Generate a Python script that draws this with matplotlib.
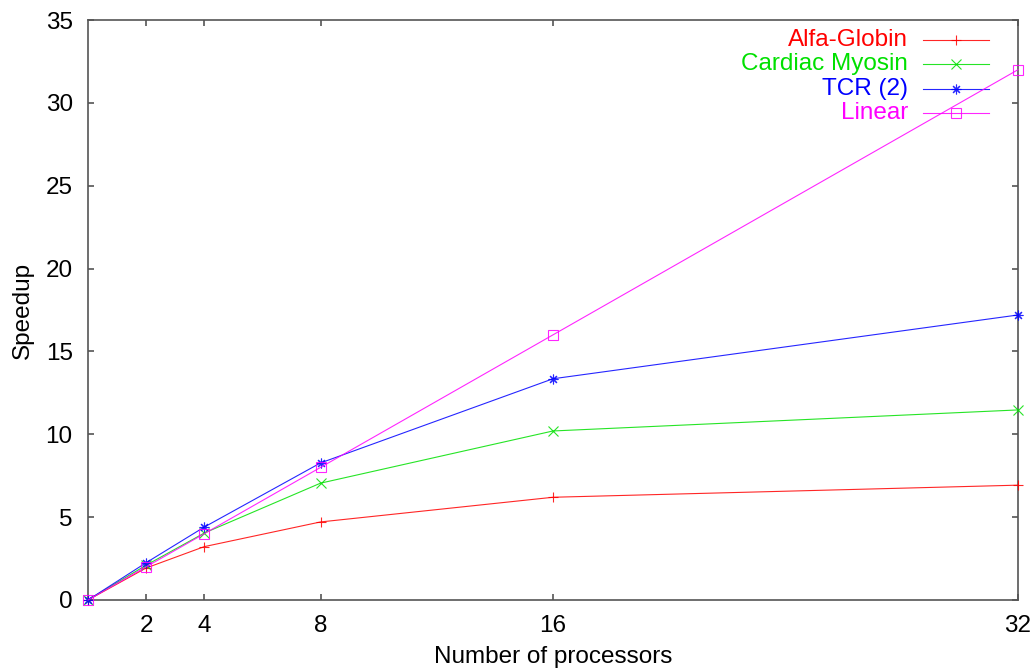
import matplotlib
matplotlib.use("Agg")
import matplotlib.pyplot as plt
from matplotlib.lines import Line2D

plt.rcParams['font.family'] = ['Liberation Sans', 'DejaVu Sans']

processors = [0, 2, 4, 8, 16, 32]
alfa_globin = [0, 1.93, 3.22, 4.71, 6.2, 6.93]
cardiac_myosin = [0, 2.1, 4.04, 7.05, 10.2, 11.47]
tcr2 = [0, 2.25, 4.4, 8.27, 13.35, 17.2]
linear = [0, 2, 4, 8, 16, 32]

labels = ['Alfa-Globin', 'Cardiac Myosin', 'TCR (2)', 'Linear']
colors = ['#ff0000', '#00e000', '#0000ff', '#ff00ff']
markers = ['+', 'x', (8, 2, 0), 's']
series = [alfa_globin, cardiac_myosin, tcr2, linear]

xticks = [2, 4, 8, 16, 32]
yticks = [0, 5, 10, 15, 20, 25, 30, 35]

FS = 17.5

fig = plt.figure(figsize=(10.30, 6.71), dpi=100)
ax = fig.add_axes([88/1030, 71/671, 930/1030, 580/671])

for s, c, m in zip(series, colors, markers):
    mfc = 'none' if m == 's' else c
    ax.plot(processors, s, color=c, lw=0.8, alpha=0.85, marker=m, markersize=7,
            markeredgewidth=0.8, markerfacecolor=mfc, clip_on=False, zorder=3)

ax.set_xlim(0, 32)
ax.set_ylim(0, 35)
ax.set_xticks(xticks)
ax.set_yticks(yticks)
ax.tick_params(direction='in', length=4.5, width=1.2, color='#555555',
               labelsize=FS, top=True, right=True)
ax.tick_params(axis='x', pad=11)
ax.tick_params(axis='y', pad=11)
for sp in ax.spines.values():
    sp.set_color('#555555')
    sp.set_linewidth(1.2)

ax.set_xlabel('Number of processors', fontsize=FS, labelpad=6)
ax.set_ylabel('Speedup', fontsize=FS, labelpad=8.5)

# gnuplot-style key: right-aligned label, then line sample with marker
row_y = [40, 64, 89, 113]
for lab, c, m, py in zip(labels, colors, markers, row_y):
    ya = 1 - (py - 20) / 580
    ax.text((908 - 88) / 930, ya, lab, transform=ax.transAxes, ha='right',
            va='center', color=c, fontsize=FS)
    mfc = 'none' if m == 's' else c
    ln = Line2D([(923 - 88) / 930, (989 - 88) / 930], [ya, ya],
                transform=ax.transAxes, color=c, lw=0.8, alpha=0.85, clip_on=False)
    mk = Line2D([(956 - 88) / 930], [ya], transform=ax.transAxes, color=c,
                marker=m, markersize=7, markeredgewidth=0.8, alpha=0.85,
                markerfacecolor=mfc, linestyle='none', clip_on=False)
    ax.add_line(ln)
    ax.add_line(mk)

fig.savefig('out.png', dpi=100)
